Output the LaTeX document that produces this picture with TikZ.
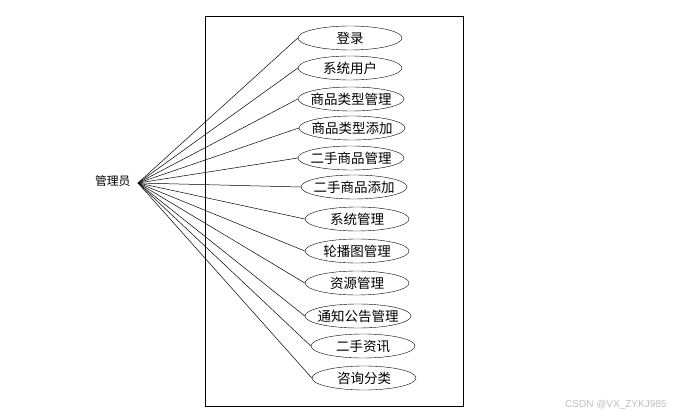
\documentclass[tikz,border=0pt]{standalone}
\usepackage{fontspec}
\newfontfamily\cjk{Noto Sans CJK SC}
\newfontfamily\wm{Liberation Sans}
\usetikzlibrary{shapes.geometric}
\begin{document}
\begin{tikzpicture}[x=1pt,y=-1pt,
  uc/.style={draw,ellipse,minimum width=104pt,minimum height=24pt,inner ysep=0pt,inner xsep=-3pt,font=\cjk\fontsize{13.5}{15}\selectfont},
  link/.style={draw,line width=0.5pt}]
\useasboundingbox (0,0) rectangle (680,419);
\node[draw,minimum width=258pt,minimum height=390pt,inner sep=0pt,anchor=north west,line width=0.6pt] (sys) at (205,16) {};
\coordinate (act) at (138,183);
\node[font=\cjk\fontsize{11.8}{13}\selectfont,anchor=east] (lbl) at (134,181.5) {管理员};
\node[uc] (u1) at (350,38) {登录};
\node[uc] (u2) at (350,68) {系统用户};
\node[uc] (u3) at (351,99) {商品类型管理};
\node[uc] (u4) at (352,128) {商品类型添加};
\node[uc] (u5) at (351,158) {二手商品管理};
\node[uc] (u6) at (354,187) {二手商品添加};
\node[uc] (u7) at (357,219) {系统管理};
\node[uc] (u8) at (357,251) {轮播图管理};
\node[uc] (u9) at (357,283) {资源管理};
\node[uc] (u10) at (358,316) {通知公告管理};
\node[uc] (u11) at (363,346) {二手资讯};
\node[uc] (u12) at (364,378) {咨询分类};
\foreach \i in {1,...,12} {\draw[link] (act) -- (u\i.west);}
\node[font=\wm\fontsize{10}{12}\selectfont,text=black!25,anchor=east] (wm) at (670,405) {CSDN @VX\_ZYKJ985};
\end{tikzpicture}
\end{document}
